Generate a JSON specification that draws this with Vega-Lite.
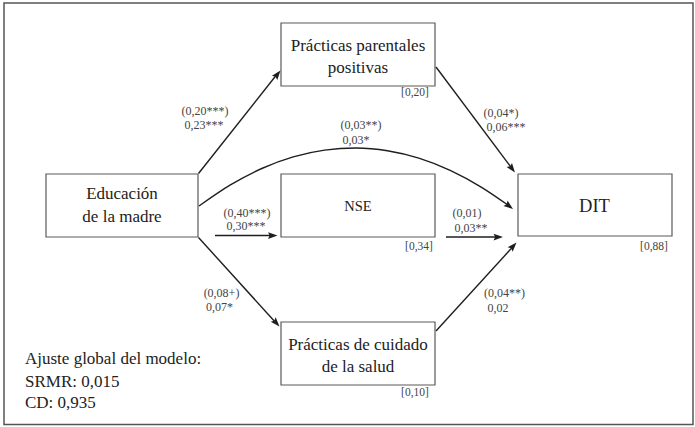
{
  "$schema": "https://vega.github.io/schema/vega-lite/v6.json",
  "width": 695,
  "height": 427,
  "padding": 0,
  "autosize": {"type": "none"},
  "background": "white",
  "config": {"view": {"stroke": null}, "font": "Liberation Serif", "text": {"font": "Liberation Serif"}},
  "datasets": {
    "frame": [{"x": 4, "x2": 693, "y": 3, "y2": 424.5}],
    "boxes": [
      {"name": "parentales", "x": 281, "x2": 435, "y": 23, "y2": 86},
      {"name": "educacion", "x": 46, "x2": 198, "y": 174, "y2": 237},
      {"name": "nse", "x": 281, "x2": 435, "y": 174, "y2": 237},
      {"name": "dit", "x": 518, "x2": 672, "y": 174, "y2": 236},
      {"name": "cuidado", "x": 281, "x2": 435, "y": 322, "y2": 385}
    ],
    "edges": [
      {"from": "Educación", "to": "Parentales", "x": 198.5, "y": 173.5, "x2": 278, "y2": 73},
      {"from": "Parentales", "to": "DIT", "x": 436, "y": 67, "x2": 512, "y2": 168.5},
      {"from": "Educación", "to": "NSE", "x": 215, "y": 235.5, "x2": 273, "y2": 235.5},
      {"from": "NSE", "to": "DIT", "x": 446, "y": 237, "x2": 499, "y2": 237},
      {"from": "Educación", "to": "Cuidado", "x": 198.5, "y": 237.5, "x2": 276.5, "y2": 323.5},
      {"from": "Cuidado", "to": "DIT", "x": 436, "y": 331, "x2": 514, "y2": 245.5}
    ],
    "curve": [
      {"i": 0, "x": 199, "y": 206},
      {"i": 1, "x": 230.4, "y": 184.9},
      {"i": 2, "x": 261.8, "y": 168.5},
      {"i": 3, "x": 293.2, "y": 156.9},
      {"i": 4, "x": 324.6, "y": 150.1},
      {"i": 5, "x": 356, "y": 148},
      {"i": 6, "x": 387.4, "y": 150.7},
      {"i": 7, "x": 418.8, "y": 158.1},
      {"i": 8, "x": 450.2, "y": 170.3},
      {"i": 9, "x": 481.6, "y": 187.3},
      {"i": 10, "x": 509, "y": 205.8}
    ],
    "heads": [
      {"x": 280.5, "y": 70.5, "angle": 38.4},
      {"x": 515, "y": 172.5, "angle": 142.8},
      {"x": 513, "y": 209, "angle": 127.5},
      {"x": 277.5, "y": 235.5, "angle": 90},
      {"x": 503, "y": 237, "angle": 90},
      {"x": 279.5, "y": 326.5, "angle": 138},
      {"x": 516.5, "y": 242.5, "angle": 42.3}
    ],
    "boxtext": [
      {"t": "Prácticas parentales", "x": 358, "y": 46},
      {"t": "positivas", "x": 358, "y": 68},
      {"t": "Educación", "x": 122, "y": 194},
      {"t": "de la madre", "x": 122, "y": 217},
      {"t": "Prácticas de cuidado", "x": 358, "y": 345},
      {"t": "de la salud", "x": 358, "y": 367}
    ],
    "nse": [{"t": "NSE", "x": 358, "y": 206.5}],
    "dit": [{"t": "DIT", "x": 594.5, "y": 206}],
    "coef": [
      {"t": "(0,20***)", "x": 205, "y": 111},
      {"t": "0,23***", "x": 204, "y": 124.5},
      {"t": "(0,03**)", "x": 361, "y": 125},
      {"t": "0,03*", "x": 356, "y": 140},
      {"t": "(0,04*)", "x": 501, "y": 113},
      {"t": "0,06***", "x": 506, "y": 127.3},
      {"t": "(0,40***)", "x": 247, "y": 212.7},
      {"t": "0,30***", "x": 246, "y": 226},
      {"t": "(0,01)", "x": 467, "y": 213.3},
      {"t": "0,03**", "x": 471, "y": 228.3},
      {"t": "(0,08+)", "x": 221.5, "y": 292.7},
      {"t": "0,07*", "x": 219.5, "y": 307},
      {"t": "(0,04**)", "x": 504.5, "y": 292.7},
      {"t": "0,02", "x": 498, "y": 308.3}
    ],
    "r2": [
      {"t": "[0,20]", "x": 415, "y": 93},
      {"t": "[0,34]", "x": 419, "y": 247},
      {"t": "[0,88]", "x": 654, "y": 247},
      {"t": "[0,10]", "x": 415, "y": 393}
    ],
    "fit": [
      {"t": "Ajuste global del modelo:", "x": 25, "y": 359},
      {"t": "SRMR: 0,015", "x": 25, "y": 382},
      {"t": "CD: 0,935", "x": 25, "y": 403}
    ]
  },
  "encoding": {
    "x": {"field": "x", "type": "quantitative", "scale": {"domain": [0, 695], "nice": false, "zero": false}, "axis": null},
    "y": {"field": "y", "type": "quantitative", "scale": {"domain": [0, 427], "nice": false, "zero": false, "reverse": true}, "axis": null}
  },
  "layer": [
    {
      "data": {"name": "frame"},
      "mark": {"type": "rect", "fill": "white", "stroke": "#555555", "strokeWidth": 1.5},
      "encoding": {"x2": {"field": "x2"}, "y2": {"field": "y2"}}
    },
    {
      "data": {"name": "boxes"},
      "mark": {"type": "rect", "fill": "white", "stroke": "#5a5a5a", "strokeWidth": 1.2},
      "encoding": {"x2": {"field": "x2"}, "y2": {"field": "y2"}}
    },
    {
      "data": {"name": "edges"},
      "mark": {"type": "rule", "color": "#1e1e1e", "strokeWidth": 1.4},
      "encoding": {"x2": {"field": "x2"}, "y2": {"field": "y2"}}
    },
    {
      "data": {"name": "curve"},
      "mark": {"type": "line", "color": "#1e1e1e", "strokeWidth": 1.4, "interpolate": "monotone"},
      "encoding": {"order": {"field": "i", "type": "quantitative"}}
    },
    {
      "data": {"name": "heads"},
      "mark": {"type": "point", "shape": "M0,0L-0.75,2.1L0,1.75L0.75,2.1Z", "filled": true, "color": "#1e1e1e", "opacity": 1, "size": 81},
      "encoding": {"angle": {"field": "angle", "type": "quantitative", "scale": null}}
    },
    {
      "data": {"name": "boxtext"},
      "mark": {"type": "text", "font": "Liberation Serif", "fontSize": 17, "color": "#222", "align": "center", "baseline": "middle"},
      "encoding": {"text": {"field": "t"}}
    },
    {
      "data": {"name": "nse"},
      "mark": {"type": "text", "font": "Liberation Serif", "fontSize": 14.5, "color": "#222", "align": "center", "baseline": "middle"},
      "encoding": {"text": {"field": "t"}}
    },
    {
      "data": {"name": "dit"},
      "mark": {"type": "text", "font": "Liberation Serif", "fontSize": 18.5, "color": "#222", "align": "center", "baseline": "middle"},
      "encoding": {"text": {"field": "t"}}
    },
    {
      "data": {"name": "coef"},
      "mark": {"type": "text", "font": "Liberation Serif", "fontSize": 12, "color": "#444", "align": "center", "baseline": "middle"},
      "encoding": {"text": {"field": "t"}}
    },
    {
      "data": {"name": "r2"},
      "mark": {"type": "text", "font": "Liberation Serif", "fontSize": 11.5, "color": "#444", "align": "center", "baseline": "middle"},
      "encoding": {"text": {"field": "t"}}
    },
    {
      "data": {"name": "fit"},
      "mark": {"type": "text", "font": "Liberation Serif", "fontSize": 17, "color": "#222", "align": "left", "baseline": "middle"},
      "encoding": {"text": {"field": "t"}}
    }
  ]
}
